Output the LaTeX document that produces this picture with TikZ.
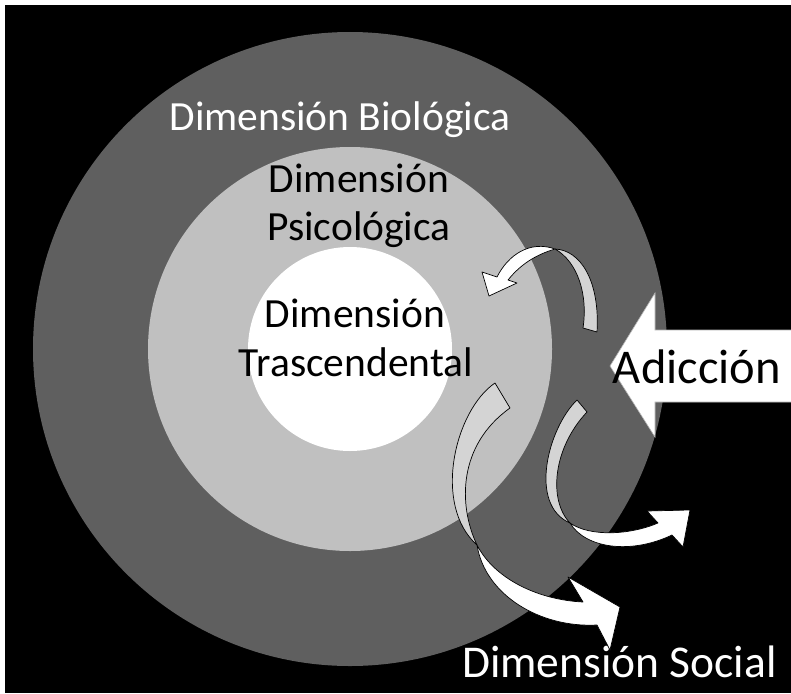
\documentclass[tikz,border=0pt]{standalone}
\usepackage{fontspec}
\setmainfont{Carlito}
\usepackage{tikz}
\definecolor{darkring}{RGB}{95,95,95}
\definecolor{lightring}{RGB}{192,192,192}
\definecolor{arrowback}{RGB}{212,212,212}

\begin{document}
\begin{tikzpicture}[x=1pt,y=-1pt,
    dimlabel/.style={font=\fontsize{41.5}{48}\selectfont, inner sep=0pt, anchor=base},
    backpart/.style={fill=arrowback, draw=black, line width=0.7pt, line join=round},
    frontpart/.style={fill=white, draw=black, line width=0.7pt, line join=round}]
    % Fondo
    \fill[white] (0,0) rectangle (791,693);
    \useasboundingbox (0,0) rectangle (791,693);
    \fill[black] (5,5) rectangle (791,693);

    % Anillos de las dimensiones
    \fill[darkring] (350,349) circle (317);
    \fill[lightring] (350,349) circle (202);
    \fill[white] (350,349) circle (102);

    % Flecha de la adiccion
    \draw[fill=white, draw=gray!60, line width=0.6pt] (610,366) -- (655,293) -- (655,330)
        -- (792,330) -- (792,402) -- (655,402) -- (655,437) -- cycle;

    % Textos
    \node[dimlabel, white] (bio) at (340,130) {Dimensión Biológica};
    \node[dimlabel] (psicoA) at (359,192) {Dimensión};
    \node[dimlabel] (psicoB) at (359,240) {Psicológica};
    \node[dimlabel] (trascA) at (355,327) {Dimensión};
    \node[dimlabel] (trascB) at (356,376) {Trascendental};
    \node[dimlabel, font=\fontsize{48.5}{50}\selectfont, anchor=base east] (adic) at (781,383) {Adicción};
    \node[dimlabel, font=\fontsize{45.5}{50}\selectfont, white, anchor=base west] (social) at (462,677) {Dimensión Social};

    % Flecha curva superior (hacia la dimension psicologica)
    \draw[backpart] (583,328) .. controls (588,295) and (578,262) .. (555,249)
        .. controls (580,250) and (600,280) .. (597,332) -- cycle;
    \draw[frontpart] (555,249) .. controls (530,240) and (508,255) .. (497,277)
        -- (482,272) -- (489,296) -- (517,283) -- (508,280)
        .. controls (520,265) and (535,255) .. (555,249) -- cycle;

    % Flecha curva hacia la dimension social
    \draw[backpart] (495,383) .. controls (455,410) and (432,505) .. (477,545)
        .. controls (458,505) and (458,445) .. (510,408) -- cycle;
    \draw[frontpart] (477,545) .. controls (495,580) and (540,600) .. (583,602)
        -- (568,577) -- (620,607) -- (610,650) -- (597,625)
        .. controls (540,628) and (485,595) .. (477,545) -- cycle;

    % Flecha curva hacia fuera
    \draw[backpart] (577,400) .. controls (548,428) and (528,505) .. (570,523)
        .. controls (548,500) and (553,448) .. (587,412) -- cycle;
    \draw[frontpart] (570,523) .. controls (590,537) and (630,535) .. (658,523)
        -- (647,511) -- (690,510) -- (683,547) -- (672,535)
        .. controls (630,555) and (585,548) .. (570,523) -- cycle;
\end{tikzpicture}
\end{document}
